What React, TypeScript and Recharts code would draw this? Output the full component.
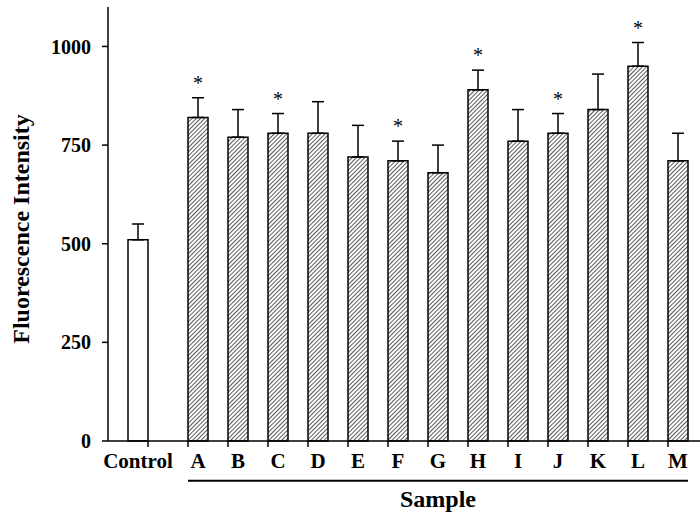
import { ComposedChart, Bar, Cell, ErrorBar, XAxis, YAxis, Scatter, ReferenceLine } from "recharts";

const samples = ["Control", "A", "B", "C", "D", "E", "F", "G", "H", "I", "J", "K", "L", "M"];
// x slot of each bar (Control sits apart from the sample group)
const slots = [0, 1.5, 2.5, 3.5, 4.5, 5.5, 6.5, 7.5, 8.5, 9.5, 10.5, 11.5, 12.5, 13.5];
const means = [510, 820, 770, 780, 780, 720, 710, 680, 890, 760, 780, 840, 950, 710];
const errors = [40, 50, 70, 50, 80, 80, 50, 70, 50, 80, 50, 90, 60, 70];
const significant = [false, true, false, true, false, false, true, false, true, false, true, false, true, false];
const yTicks = [0, 250, 500, 750, 1000];

const FONT = '"Liberation Serif", "Times New Roman", serif';
const BAR = 20;

const data = samples.map((name, i) => ({
  name,
  pos: slots[i],
  value: means[i],
  err: [0, errors[i]],
}));

const stars = data
  .filter((_, i) => significant[i])
  .map((d, i) => ({ pos: d.pos, top: d.value + d.err[1], key: i }));

const labelFor = (pos: number) => samples[slots.indexOf(pos)] ?? "";

function SampleTick(props: any) {
  const { x, y, payload } = props;
  const name = labelFor(payload.value);
  const markX = name === "Control" ? x + BAR / 2 : x - BAR / 2;
  return (
    <g>
      <line x1={markX} y1={y} x2={markX} y2={y + 6} stroke="#000" strokeWidth={1.5} />
      <text x={x} y={y + 27} textAnchor="middle" fontFamily={FONT} fontWeight="bold" fontSize={21} fill="#000">
        {name}
      </text>
    </g>
  );
}

function Star(props: any) {
  const { cx, cy } = props;
  return (
    <text x={cx} y={cy - 8} textAnchor="middle" fontFamily={FONT} fontSize={20} fill="#000" stroke="none">
      *
    </text>
  );
}

function YTitle(props: any) {
  const { viewBox } = props;
  const cx = viewBox.x + 21;
  const cy = viewBox.y + viewBox.height / 2 + 5;
  return (
    <text
      x={cx}
      y={cy}
      transform={`rotate(-90, ${cx}, ${cy})`}
      textAnchor="middle"
      fontFamily={FONT}
      fontWeight="bold"
      fontSize={24}
      fill="#000"
    >
      Fluorescence Intensity
    </text>
  );
}

export default function App() {
  return (
    <div style={{ position: "absolute", left: 0, top: 0, width: 700, height: 515, background: "#fff" }}>
      <ComposedChart width={700} height={515} data={data} margin={{ top: 7, right: 0, bottom: 44, left: 8 }}>
        <defs>
          <pattern id="hatch" width="3" height="3" patternUnits="userSpaceOnUse" patternTransform="rotate(45)">
            <rect width="3" height="3" fill="#fff" />
            <line x1="0" y1="0" x2="0" y2="3" stroke="#000" strokeWidth="1.3" />
          </pattern>
        </defs>
        <XAxis
          dataKey="pos"
          type="number"
          domain={[-0.75, 14.05]}
          ticks={slots}
          interval={0}
          height={30}
          tickSize={0}
          tickMargin={0}
          tickLine={false}
          tick={<SampleTick />}
          axisLine={{ stroke: "#000", strokeWidth: 1.5 }}
        />
        <YAxis
          type="number"
          domain={[0, 1100]}
          ticks={yTicks}
          width={100}
          tickSize={6}
          tickMargin={11}
          axisLine={{ stroke: "#000", strokeWidth: 1.5 }}
          tickLine={{ stroke: "#000", strokeWidth: 1.5 }}
          tick={{ fontFamily: FONT, fontWeight: "bold", fontSize: 20, fill: "#000" }}
          label={{ content: <YTitle /> }}
        />
        <Bar dataKey="value" barSize={BAR} stroke="#000" strokeWidth={1.5} isAnimationActive={false}>
          {data.map((d) => (
            <Cell key={d.name} fill={d.name === "Control" ? "#fff" : "url(#hatch)"} />
          ))}
          <ErrorBar dataKey="err" direction="y" width={6} stroke="#000" strokeWidth={1.5} />
        </Bar>
        <Scatter data={stars} dataKey="top" fill="#000" shape={<Star />} isAnimationActive={false} />
        <ReferenceLine
          segment={[
            { x: 1.25, y: -101 },
            { x: 13.75, y: -101 },
          ]}
          ifOverflow="visible"
          stroke="#000"
          strokeWidth={2}
          label={{
            value: "Sample",
            position: "bottom",
            offset: 9,
            fontFamily: FONT,
            fontWeight: "bold",
            fontSize: 24,
            fill: "#000",
          }}
        />
      </ComposedChart>
    </div>
  );
}
